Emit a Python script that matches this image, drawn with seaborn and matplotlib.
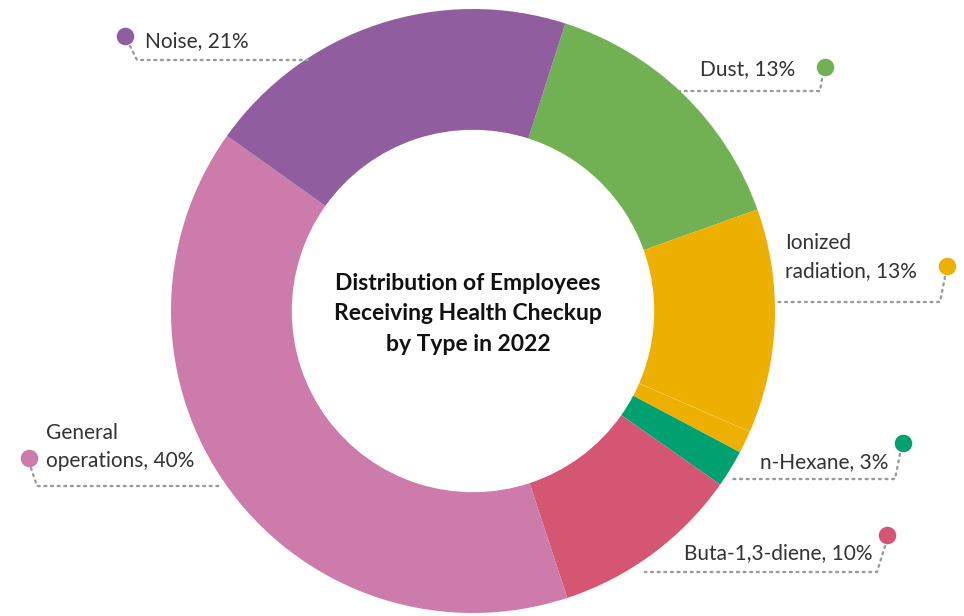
import matplotlib
matplotlib.use("Agg")
import matplotlib.pyplot as plt
import seaborn as sns

categories = ["Dust", "Ionized radiation", "Ionized radiation (part)", "n-Hexane",
              "Buta-1,3-diene", "General operations", "Noise"]
values = [14.6, 12.0, 1.2, 2.0, 10.2, 39.9, 20.1]
colors = ["#72B153", "#EEB000", "#EEB000", "#00A170", "#D45673", "#CC7BAB", "#905E9F"]

label_texts = ["Noise, 21%", "Dust, 13%", "Ionized\nradiation, 13%", "General\noperations, 40%",
               "n-Hexane, 3%", "Buta-1,3-diene, 10%"]
label_colors = ["#905E9F", "#72B153", "#EEB000", "#CC7BAB", "#00A170", "#D45673"]
title = "Distribution of Employees\nReceiving Health Checkup\nby Type in 2022"

sns.set_theme(style="white")
plt.rcParams["font.family"] = ["Lato", "DejaVu Sans"]

W, H = 964, 616
fig = plt.figure(figsize=(W / 100, H / 100), dpi=100)
ax = fig.add_axes([0, 0, 1, 1])

def Y(y):  # pixel-from-top to data y
    return H - y

cx, cy, R = 473, Y(311), 302
wedges, _ = ax.pie(values, colors=colors, startangle=90 - 17.8, counterclock=False,
                   center=(cx, cy), radius=R,
                   wedgeprops=dict(width=R * 0.4, edgecolor="none", linewidth=0))
# faint separation inside the orange segment
wedges[2].set_edgecolor((1, 1, 1, 0.2))
wedges[2].set_linewidth(0.5)

ax.set_xlim(0, W)
ax.set_ylim(0, H)
ax.set_aspect("auto")
ax.axis("off")

ax.text(468, Y(314), title, ha="center", va="center", fontsize=16.5,
        fontweight="bold", color="#111111", linespacing=1.55)

# ---- callouts: (dot xy, path points, text xy, ha) ----
callouts = [
    ((125, 36), [(130, 46), (137, 60), (308, 60)], (145, 41), "left"),
    ((825, 67), [(822, 79), (820, 91), (680, 91)], (795, 69), "right"),
    ((947, 266), [(945, 277), (940, 302), (777, 302)], (785, 257), "left"),
    ((29, 458), [(31, 468), (37, 486), (220, 486)], (46, 447), "left"),
    ((903, 443), [(900, 454), (895, 479), (732, 479)], (888, 462), "right"),
    ((887, 535), [(885, 546), (877, 572), (645, 572)], (872, 553), "right"),
]
for (dot, path, txy, ha), txt, col in zip(callouts, label_texts, label_colors):
    xs = [p[0] for p in path]
    ys = [Y(p[1]) for p in path]
    ax.plot(xs, ys, color="#9a9a9a", lw=1.7, linestyle=(0, (0.8, 2.0)),
            solid_capstyle="round", dash_capstyle="round", zorder=2)
    ax.scatter([dot[0]], [Y(dot[1])], s=160, color=col, zorder=3, linewidths=0)
    ax.text(txy[0], Y(txy[1]), txt, ha=ha, va="center", fontsize=15,
            color="#333333", linespacing=1.45)

fig.savefig("out.png", dpi=100)
